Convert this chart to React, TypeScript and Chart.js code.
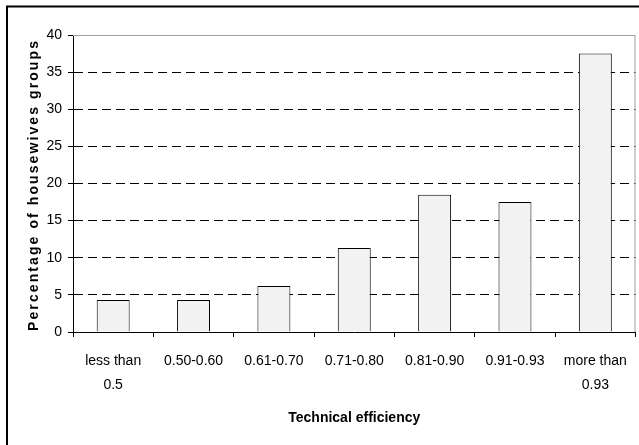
import React, { useEffect, useRef } from "react";
import { Chart, registerables } from "chart.js";

Chart.register(...registerables);

const categories: (string | string[])[] = [
  ["less than", "0.5"],
  "0.50-0.60",
  "0.61-0.70",
  "0.71-0.80",
  "0.81-0.90",
  "0.91-0.93",
  ["more than", "0.93"],
];
const percentages = [4.3, 4.3, 6.2, 11.3, 18.5, 17.5, 37.5];
const yTicks = [0, 5, 10, 15, 20, 25, 30, 35, 40];
const xTitle = "Technical efficiency";
const yTitle = "Percentage of housewives groups";

const FONT = "'Liberation Sans', Arial, sans-serif";

const decorPlugin = {
  id: "decor",
  beforeDraw(chart: any) {
    const ctx = chart.ctx;
    ctx.save();
    ctx.fillStyle = "#fff";
    ctx.fillRect(0, 0, chart.width, chart.height);
    ctx.strokeStyle = "#000";
    ctx.lineWidth = 2;
    ctx.beginPath();
    ctx.moveTo(7, chart.height + 2);
    ctx.lineTo(7, 6.5);
    ctx.lineTo(chart.width + 2, 6.5);
    ctx.stroke();
    ctx.restore();
  },
  afterDraw(chart: any) {
    const ctx = chart.ctx;
    const a = chart.chartArea;
    ctx.save();
    ctx.strokeStyle = "#a0a0a0";
    ctx.lineWidth = 1;
    ctx.beginPath();
    ctx.moveTo(a.left, a.top + 0.5);
    ctx.lineTo(a.right - 0.5, a.top + 0.5);
    ctx.lineTo(a.right - 0.5, a.bottom);
    ctx.stroke();
    // rotated y-axis title with letter spacing
    ctx.font = `bold 14px ${FONT}`;
    ctx.fillStyle = "#000";
    ctx.textAlign = "center";
    ctx.textBaseline = "middle";
    const natural = ctx.measureText(yTitle).width;
    const targetLen = 292;
    const spacing = Math.max(0, (targetLen - natural) / yTitle.length);
    (ctx as any).letterSpacing = `${spacing.toFixed(2)}px`;
    ctx.translate(34, 186);
    ctx.rotate(-Math.PI / 2);
    ctx.fillText(yTitle, spacing / 2, 0);
    ctx.restore();
  },
};

export default function App() {
  const ref = useRef<HTMLCanvasElement>(null);
  useEffect(() => {
    if (!ref.current) return;
    const chart = new Chart(ref.current, {
      type: "bar",
      data: {
        labels: categories,
        datasets: [
          {
            data: percentages,
            backgroundColor: "#f2f2f2",
            borderColor: "#000",
            borderWidth: 1,
            barPercentage: 0.41,
            categoryPercentage: 1,
          },
        ],
      },
      options: {
        animation: false,
        responsive: false,
        layout: { padding: { left: 0, right: 2, top: 35, bottom: 0 } },
        plugins: { legend: { display: false }, tooltip: { enabled: false } },
        scales: {
          x: {
            grid: {
              display: true,
              drawOnChartArea: false,
              offset: true,
              tickLength: 5,
              color: "#000",
              tickColor: "#000",
            },
            border: { display: true, color: "#000", width: 1 },
            ticks: {
              color: "#000",
              font: { family: FONT, size: 14, lineHeight: 1.7 },
              padding: 12,
              maxRotation: 0,
              autoSkip: false,
            },
            title: {
              display: true,
              text: xTitle,
              color: "#000",
              font: { family: FONT, size: 14, weight: "bold" },
              padding: { top: 0, bottom: 18 },
            },
            afterFit: (s: any) => {
              s.height = 113;
            },
          },
          y: {
            min: 0,
            max: 40,
            afterBuildTicks: (s: any) => {
              s.ticks = yTicks.map((v) => ({ value: v }));
            },
            grid: {
              color: (c: any) =>
                c.tick && (c.tick.value === 0 || c.tick.value === 40) ? "rgba(0,0,0,0)" : "#000",
              tickColor: "#000",
              tickLength: 5,
              lineWidth: 1,
            },
            border: { display: true, color: "#000", width: 1, dash: [9, 5] },
            ticks: {
              color: "#000",
              font: { family: FONT, size: 14 },
              padding: 6,
            },
            afterFit: (s: any) => {
              s.width = 73;
            },
          },
        },
      },
      plugins: [decorPlugin],
    });
    return () => chart.destroy();
  }, []);
  return (
    <div style={{ position: "absolute", left: 0, top: 0, width: 639, height: 445, background: "#fff" }}>
      <canvas ref={ref} width={639} height={445} style={{ width: 639, height: 445, display: "block" }} />
    </div>
  );
}
